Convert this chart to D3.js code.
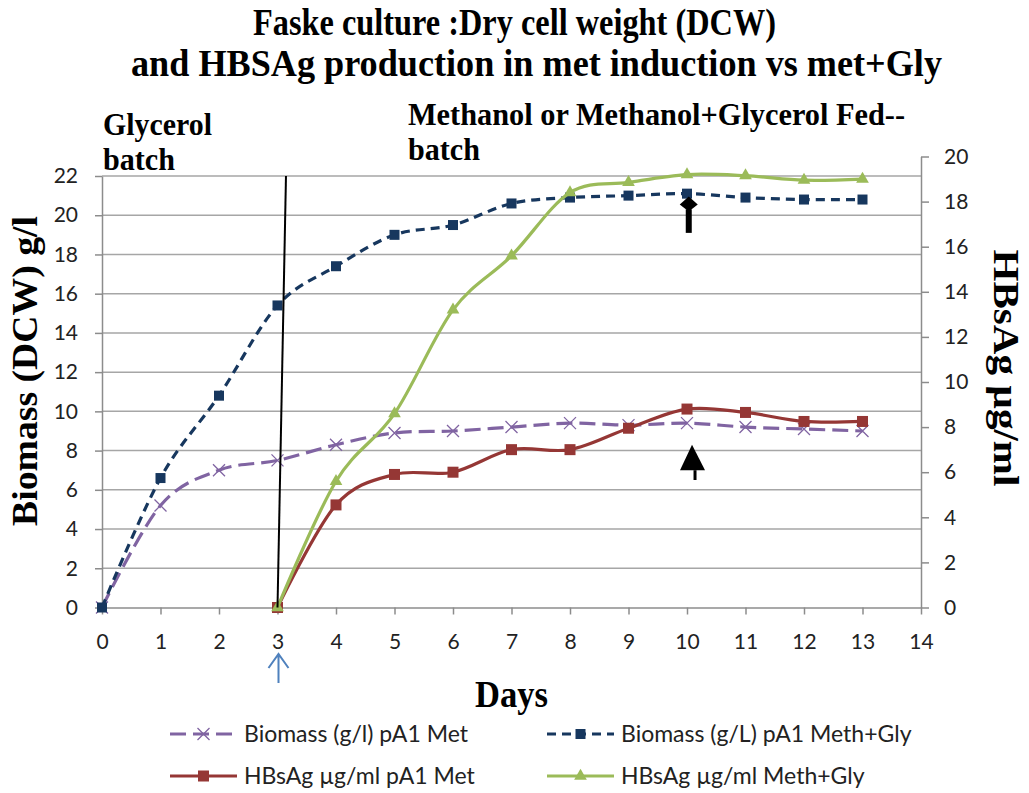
<!DOCTYPE html>
<html>
<head>
<meta charset="utf-8">
<script src="https://cdn.jsdelivr.net/npm/d3@7"></script>
<style>
  body { margin: 0; background: #fff; }
  svg { display: block; }
</style>
</head>
<body>
<svg width="1029" height="793"></svg>
<script>
// days on the x axis
const days = [0, 1, 2, 3, 4, 5, 6, 7, 8, 9, 10, 11, 12, 13];
// biomass, left axis (g/l)
const biomassMet = [0, 5.2, 7.0, 7.5, 8.3, 8.9, 9.0, 9.2, 9.4, 9.3, 9.4, 9.2, 9.1, 9.0];
const biomassMethGly = [0, 6.6, 10.8, 15.4, 17.4, 19.0, 19.5, 20.6, 20.9, 21.0, 21.1, 20.9, 20.8, 20.8];
// HBsAg, right axis (ug/ml), starts at induction day 3
const hbsagDays = [3, 4, 5, 6, 7, 8, 9, 10, 11, 12, 13];
const hbsagMet = [0, 4.55, 5.9, 6.0, 7.0, 7.0, 7.95, 8.8, 8.65, 8.25, 8.25];
const hbsagMethGly = [0, 5.6, 8.6, 13.2, 15.6, 18.4, 18.85, 19.2, 19.15, 18.95, 19.0];

const xTicks = d3.range(0, 15);
const leftTicks = d3.range(0, 23, 2);
const rightTicks = d3.range(0, 21, 2);

const legendLabels = ["Biomass (g/l) pA1 Met", "Biomass (g/L) pA1 Meth+Gly",
                      "HBsAg \u00b5g/ml pA1 Met", "HBsAg \u00b5g/ml Meth+Gly"];

// annotation line between batch and fed-batch phase (left axis units)
const phaseLine = [[3, 0], [3.145, 22]];

const svg = d3.select("svg");
const serif = "'Liberation Serif', 'Times New Roman', serif";
const sans = "Lato, 'Open Sans', sans-serif";

// scales
const x = d3.scaleLinear().domain([0, 14]).range([102, 921]);
const yL = d3.scaleLinear().domain([0, 22]).range([607.5, 176]);
const yR = d3.scaleLinear().domain([0, 20]).range([607.5, 156.5]);

// gridlines
svg.append("g")
  .selectAll("line")
  .data(leftTicks.filter(d => d > 0))
  .enter()
  .append("line")
  .attr("x1", x(0)).attr("x2", x(14))
  .attr("y1", d => yL(d)).attr("y2", d => yL(d))
  .attr("stroke", "#a6a6a6").attr("stroke-width", 1.5);

// axes
function styleAxis(g) {
  g.select(".domain").attr("stroke", "#8c8c8c").attr("stroke-width", 1.5);
  g.selectAll(".tick line").attr("stroke", "#8c8c8c").attr("stroke-width", 1.5);
  g.selectAll(".tick text").attr("fill", "#222").attr("font-family", sans).attr("font-size", 21);
}

svg.append("g")
  .attr("transform", "translate(0," + yL(0) + ")")
  .call(d3.axisBottom(x).tickValues(xTicks).tickSize(7).tickSizeOuter(0).tickPadding(20))
  .call(styleAxis);

svg.append("g")
  .attr("transform", "translate(" + x(0) + ",0)")
  .call(d3.axisLeft(yL).tickValues(leftTicks).tickSize(7).tickSizeOuter(0).tickPadding(17))
  .call(styleAxis);

svg.append("g")
  .attr("transform", "translate(" + x(14) + ",0)")
  .call(d3.axisRight(yR).tickValues(rightTicks).tickSize(8).tickSizeOuter(0).tickPadding(15))
  .call(styleAxis);

// series
const curve = d3.curveCatmullRom.alpha(0);
const series = [
  { name: legendLabels[0], xs: days, ys: biomassMet, y: yL, color: "#8064a2", dash: "16,7", marker: "x" },
  { name: legendLabels[1], xs: days, ys: biomassMethGly, y: yL, color: "#17375e", dash: "9,6", marker: "square" },
  { name: legendLabels[2], xs: hbsagDays, ys: hbsagMet, y: yR, color: "#953735", dash: null, marker: "bigsquare" },
  { name: legendLabels[3], xs: hbsagDays, ys: hbsagMethGly, y: yR, color: "#9bbb59", dash: null, marker: "triangle" }
];

function drawMarker(g, type, color) {
  if (type === "x") {
    g.append("path").attr("d", "M-6,-6L6,6M-6,6L6,-6")
      .attr("stroke", color).attr("stroke-width", 1.3).attr("fill", "none");
  } else if (type === "square") {
    g.append("rect").attr("x", -5).attr("y", -5).attr("width", 10).attr("height", 10).attr("fill", color);
  } else if (type === "bigsquare") {
    g.append("rect").attr("x", -5.5).attr("y", -5.5).attr("width", 11).attr("height", 11).attr("fill", color);
  } else {
    g.append("path").attr("d", d3.symbol(d3.symbolTriangle, 70)()).attr("fill", color);
  }
}

series.forEach(s => {
  const pts = s.xs.map((d, i) => [d, s.ys[i]]);
  const line = d3.line().x(d => x(d[0])).y(d => s.y(d[1])).curve(curve);
  svg.append("path")
    .datum(pts)
    .attr("d", line)
    .attr("fill", "none")
    .attr("stroke", s.color)
    .attr("stroke-width", 3.2)
    .attr("stroke-dasharray", s.dash);
  svg.append("g")
    .selectAll("g")
    .data(pts)
    .enter()
    .append("g")
    .attr("transform", d => "translate(" + x(d[0]) + "," + s.y(d[1]) + ")")
    .each(function () { drawMarker(d3.select(this), s.marker, s.color); });
});

// phase line
svg.append("line")
  .attr("x1", x(phaseLine[0][0])).attr("y1", yL(phaseLine[0][1]))
  .attr("x2", x(phaseLine[1][0])).attr("y2", yL(phaseLine[1][1]))
  .attr("stroke", "#000").attr("stroke-width", 2);

// black arrows at day 10
const ax1 = x(10.03);
svg.append("line").attr("x1", ax1).attr("x2", ax1)
  .attr("y1", yL(19.1)).attr("y2", yL(20.3))
  .attr("stroke", "#000").attr("stroke-width", 6);
svg.append("path")
  .attr("d", "M" + ax1 + "," + yL(20.95) + " l9,8 l-9,7 l-9,-7 z")
  .attr("fill", "#000");

const ax2 = x(10.12);
svg.append("line").attr("x1", ax2 + 1).attr("x2", ax2 + 1)
  .attr("y1", yL(6.5)).attr("y2", yL(7.0))
  .attr("stroke", "#000").attr("stroke-width", 3);
svg.append("path")
  .attr("d", "M" + (ax2 - 2) + "," + yL(8.3) + " L" + (ax2 + 11) + "," + yL(7.0) + " L" + (ax2 - 14) + "," + yL(7.0) + " z")
  .attr("fill", "#000");

// blue induction arrow under day 3
const bx = x(3) + 1;
svg.append("path")
  .attr("d", "M" + bx + ",683 L" + bx + ",654 M" + (bx - 10) + ",668 L" + bx + ",654 L" + (bx + 10) + ",668")
  .attr("fill", "none").attr("stroke", "#4f81bd").attr("stroke-width", 2);

// titles
function boldText(txt, cx, cy, size, len, anchor) {
  return svg.append("text")
    .attr("x", cx).attr("y", cy)
    .attr("font-family", serif).attr("font-weight", "bold")
    .attr("font-size", size)
    .attr("text-anchor", anchor || "start")
    .attr("textLength", len).attr("lengthAdjust", "spacingAndGlyphs")
    .text(txt);
}

boldText("Faske culture :Dry cell weight (DCW)", 253, 35, 38, 523);
boldText("and HBSAg production in met induction vs  met+Gly", 131, 76, 38, 811);
boldText("Glycerol", 103, 135, 31, 109);
boldText("batch", 103, 170, 31, 72);
boldText("Methanol or Methanol+Glycerol Fed--", 408, 125, 31, 497);
boldText("batch", 408, 160, 31, 72);
boldText("Days", 475, 707, 38, 73);

svg.append("text")
  .attr("transform", "translate(37,371) rotate(-90)")
  .attr("font-family", serif).attr("font-weight", "bold").attr("font-size", 36)
  .attr("text-anchor", "middle")
  .attr("textLength", 310).attr("lengthAdjust", "spacingAndGlyphs")
  .text("Biomass (DCW) g/l");

svg.append("text")
  .attr("transform", "translate(994,368) rotate(90)")
  .attr("font-family", serif).attr("font-weight", "bold").attr("font-size", 36)
  .attr("text-anchor", "middle")
  .attr("textLength", 237).attr("lengthAdjust", "spacingAndGlyphs")
  .text("HBsAg \u00b5g/ml");

// legend
const legendPos = [[170, 734], [547, 734], [170, 776], [547, 776]];
series.forEach((s, i) => {
  const g = svg.append("g").attr("transform", "translate(" + legendPos[i][0] + "," + legendPos[i][1] + ")");
  g.append("line").attr("x1", 0).attr("x2", 67).attr("y1", 0).attr("y2", 0)
    .attr("stroke", s.color).attr("stroke-width", 3.2).attr("stroke-dasharray", s.dash);
  const m = g.append("g").attr("transform", "translate(33.5,0)");
  drawMarker(m, s.marker, s.color);
  g.append("text").attr("x", 74).attr("y", 8)
    .attr("font-family", sans).attr("font-size", 23).attr("fill", "#222")
    .text(s.name);
});
</script>
</body>
</html>
